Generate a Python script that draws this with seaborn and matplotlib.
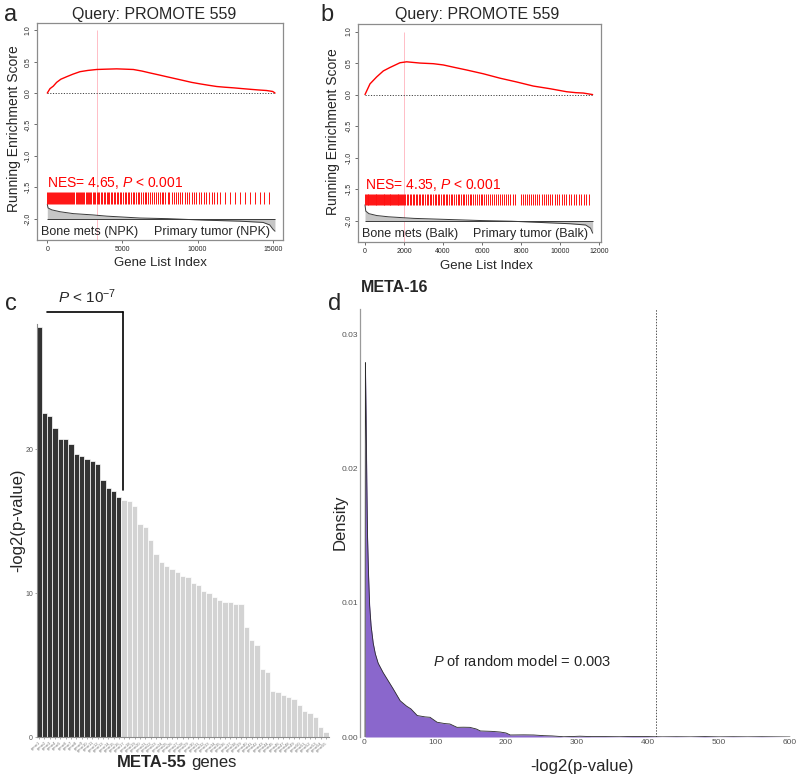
import matplotlib
matplotlib.use("Agg")
import matplotlib.pyplot as plt
import seaborn as sns
import pandas as pd

# ---- panel a : GSEA on NPK ----
a_es_idx = [0, 180, 400, 621, 900, 1290, 1700, 2175, 2700, 3285, 3900, 4615, 5200, 5725,
            6300, 6835, 7400, 7945, 8500, 9055, 9600, 10165, 10700, 11275, 11800, 12385,
            12900, 13490, 14000, 14600, 15000, 15155]
a_es_val = [0.0, 0.07, 0.11, 0.17, 0.22, 0.26, 0.30, 0.34, 0.36, 0.375, 0.38, 0.385, 0.38,
            0.375, 0.35, 0.32, 0.29, 0.26, 0.23, 0.20, 0.17, 0.146, 0.125, 0.104, 0.093,
            0.083, 0.072, 0.06, 0.05, 0.04, 0.025, 0.0]
a_hits = [10, 70, 130, 200, 260, 330, 390, 450, 520, 590, 650, 720, 790, 850, 920, 990,
          1050, 1120, 1190, 1250, 1320, 1390, 1460, 1520, 1600, 1670, 1740, 1810, 1880,
          1950, 2020, 2100, 2170, 2240, 2320, 2400, 2470, 2550, 2630, 2700, 2780, 2860,
          2940, 3020, 3110, 3200, 3290, 3380, 3470, 3560, 3650, 3750, 3840, 3940, 4030,
          4130, 4220, 4320, 4420, 4520, 4620, 4720, 4820, 4930, 5030, 5140, 5240, 5350,
          5460, 5570, 5680, 5790, 5900, 6020, 6130, 6250, 6360, 6480, 6600, 6720, 6840,
          6960, 7090, 7210, 7340, 7470, 7600, 7730, 7860, 8000, 8130, 8270, 8410, 8550,
          8700, 8840, 8990, 9140, 9290, 9450, 9600, 9760, 9920, 10080, 10250, 10420, 10590,
          10760, 10940, 11120, 11300, 11480, 11800, 12150, 12500, 12800, 13150, 13500,
          13800, 14150, 14450, 14780]
a_rank_idx = [0, 50, 300, 850, 1730, 3000, 3950, 6160, 8000, 10600, 12810, 14360, 14800, 15020, 15150]
a_rank_val = [-1.77, -1.83, -1.86, -1.89, -1.92, -1.94, -1.96, -1.99, -2.0, -2.025, -2.04,
              -2.06, -2.1, -2.17, -2.2]

# ---- panel b : GSEA on Balk ----
b_es_idx = [0, 256, 597, 938, 1280, 1622, 1792, 2133, 2816, 3499, 4011, 4600, 5206, 6060,
            6913, 7766, 8620, 9473, 10326, 10800, 11180, 11658]
b_es_val = [0.0, 0.17, 0.28, 0.375, 0.43, 0.48, 0.505, 0.52, 0.50, 0.49, 0.47, 0.43, 0.39,
            0.33, 0.26, 0.20, 0.135, 0.093, 0.045, 0.03, 0.024, 0.0]
b_hits = [5, 45, 85, 135, 175, 225, 265, 310, 360, 400, 450, 490, 540, 580, 630, 675, 720,
          770, 810, 855, 900, 950, 990, 1035, 1085, 1125, 1170, 1220, 1260, 1305, 1350,
          1400, 1440, 1485, 1530, 1580, 1620, 1665, 1715, 1755, 1800, 1850, 1890, 1935,
          1980, 2060, 2140, 2210, 2290, 2370, 2440, 2520, 2600, 2680, 2750, 2830, 2910,
          2990, 3070, 3150, 3230, 3310, 3390, 3470, 3560, 3640, 3720, 3800, 3890, 3970,
          4050, 4140, 4220, 4310, 4390, 4480, 4560, 4650, 4740, 4820, 4910, 5000, 5090,
          5180, 5270, 5360, 5450, 5540, 5640, 5730, 5820, 5920, 6010, 6110, 6200, 6300,
          6400, 6500, 6600, 6700, 6800, 6900, 7010, 7110, 7220, 7330, 7440, 7560, 7680,
          7990, 8090, 8190, 8290, 8400, 8500, 8610, 8710, 8820, 8930, 9040, 9150, 9260,
          9370, 9480, 9600, 9710, 9830, 9950, 10070, 10190, 10310, 10430, 10560, 10680,
          10810, 10940, 11070, 11200, 11340, 11480]
b_rank_idx = [0, 40, 200, 600, 1200, 2500, 4000, 6000, 7500, 9000, 10500, 11300, 11550, 11660]
b_rank_val = [-1.75, -1.85, -1.89, -1.92, -1.94, -1.965, -1.98, -2.0, -2.01, -2.03, -2.05,
              -2.07, -2.12, -2.2]

# ---- panel c : META-55 genes ----
top_vals = [28.5, 22.5, 22.3, 21.5, 20.7, 20.7, 20.4, 19.7, 19.5, 19.3, 19.2, 19.0, 17.9,
            17.3, 17.1, 16.7]
rest_vals = [16.46, 16.41, 16.06, 14.8, 14.6, 13.7, 12.7, 12.2, 11.9, 11.67, 11.46, 11.2,
             11.16, 10.74, 10.6, 10.16, 10.05, 9.75, 9.54, 9.4, 9.4, 9.26, 9.26, 7.69, 6.76,
             6.39, 4.75, 4.5, 3.24, 3.13, 2.92, 2.8, 2.66, 2.25, 1.85, 1.71, 1.44, 0.69, 0.39]
gene_labels = [f"gene{i}" for i in range(1, 56)]

# ---- panel d : META-16 random model density ----
dens_x = [1.5, 2, 3, 4, 5, 6.5, 8, 10, 13, 16, 20, 27, 34, 41, 51, 60, 66, 75, 86, 93, 103,
          114, 121, 131, 140, 149, 158, 164, 180, 192, 200, 206, 225, 239, 253, 265, 281,
          295, 304, 320, 340, 360, 380, 400, 420, 440, 460, 480, 500, 520, 540, 560, 580, 600]
dens_y = [0.0, 0.0279, 0.024, 0.019, 0.015, 0.012, 0.0098, 0.0083, 0.0070, 0.0062, 0.0055,
          0.0048, 0.0042, 0.0036, 0.0027, 0.0023, 0.0021, 0.0016, 0.0015, 0.00147, 0.0011,
          0.001, 0.00097, 0.00072, 0.00073, 0.00072, 0.0006, 0.00045, 0.00042, 0.00037,
          0.0003, 0.00015, 0.00016, 0.00015, 0.0001, 0.00008, 0.00002, 0.00004, 0.00006,
          0.00003, 0.00003, 0.00002, 0.00004, 0.00003, 0.00001, 0.00002, 0.00001, 0.00003,
          0.00001, 0.00002, 0.00001, 0.00002, 0.00001, 0.0]
observed = 411

sns.set_theme(style="white")
plt.rcParams['font.family'] = ['Liberation Sans', 'DejaVu Sans']
plt.rcParams['mathtext.fontset'] = 'custom'
plt.rcParams['mathtext.rm'] = 'Liberation Sans'
plt.rcParams['mathtext.it'] = 'Liberation Sans:italic'

W, H = 800, 777
fig = plt.figure(figsize=(8, 7.77), dpi=100)


def px_axes(left, top, right, bottom):
    return fig.add_axes([left / W, 1 - bottom / H, (right - left) / W, (bottom - top) / H])


def ftext(x, y, s, **kw):
    fig.text(x / W, 1 - y / H, s, **kw)


def draw_gsea(ax, es_idx, es_val, hits, rank_idx, rank_val, peak, xlim, xticks,
              nes, left_lab, right_lab):
    n = es_idx[-1]
    ax.set_xlim(*xlim)
    ax.set_ylim(-2.34, 1.12)
    ax.vlines(peak, -2.34, 1.0, color="#ffb3bd", lw=0.6, zorder=1)
    ax.hlines(0, 0, n, color="#444444", lw=0.7, linestyles=(0, (1.2, 1.6)), zorder=2)
    ax.fill_between(rank_idx, -2.0, rank_val, color="#c6c6c6", lw=0, zorder=2)
    sns.lineplot(x=rank_idx, y=rank_val, ax=ax, color="#3a3a3a", lw=0.7,
                 estimator=None, sort=False, zorder=3)
    ax.hlines(-2.0, 0, n, color="#3a3a3a", lw=0.7, zorder=3)
    ax.vlines(hits, -1.76, -1.58, color="#ff1010", lw=0.7, zorder=3)
    sns.lineplot(x=es_idx, y=es_val, ax=ax, color="#ff0000", lw=1.0,
                 estimator=None, sort=False, zorder=4)
    ax.text(0, -1.43, nes, color="#ff0000", fontsize=10, ha="left", va="center")
    ax.text(0.014, 0.035, left_lab, transform=ax.transAxes, fontsize=9, ha="left", va="center")
    ax.text(0.945, 0.035, right_lab, transform=ax.transAxes, fontsize=9, ha="right", va="center")
    ax.set_xticks(xticks)
    ax.set_xticklabels([str(t) for t in xticks])
    yt = [-2.0, -1.5, -1.0, -0.5, 0.0, 0.5, 1.0]
    ax.set_yticks(yt)
    ax.set_yticklabels([f"{v:.1f}" for v in yt], rotation=90, va="center")
    ax.tick_params(axis="both", which="both", bottom=True, left=True, length=2.5, width=0.6,
                   color="#555555", labelsize=5, pad=1.5, direction="out")
    ax.set_xlabel("")
    ax.set_ylabel("")
    for sp in ax.spines.values():
        sp.set_color("#8c8c8c")
        sp.set_linewidth(0.9)


ax_a = px_axes(37.3, 22.7, 283.3, 240)
draw_gsea(ax_a, a_es_idx, a_es_val, a_hits, a_rank_idx, a_rank_val, 3290, (-665, 15705),
          [0, 5000, 10000, 15000], r"NES= 4.65, $\mathit{P}$ < 0.001",
          "Bone mets (NPK)", "Primary tumor (NPK)")

ax_b = px_axes(358.3, 24, 601, 242)
draw_gsea(ax_b, b_es_idx, b_es_val, b_hits, b_rank_idx, b_rank_val, 1997, (-343, 12087),
          [0, 2000, 4000, 6000, 8000, 10000, 12000], r"NES= 4.35, $\mathit{P}$ < 0.001",
          "Bone mets (Balk)", "Primary tumor (Balk)")

ftext(154, 14, "Query: PROMOTE 559", fontsize=11.5, ha="center", va="center")
ftext(477, 14, "Query: PROMOTE 559", fontsize=11.5, ha="center", va="center")
ftext(160, 263, "Gene List Index", fontsize=9.5, ha="center", va="center")
ftext(486, 266, "Gene List Index", fontsize=9.5, ha="center", va="center")
ftext(14, 129, "Running Enrichment Score", fontsize=10, rotation=90, ha="center", va="center")
ftext(333, 132, "Running Enrichment Score", fontsize=10, rotation=90, ha="center", va="center")

# ---- panel c ----
bars = pd.DataFrame({
    "gene": gene_labels,
    "value": top_vals + rest_vals,
    "group": ["top"] * len(top_vals) + ["rest"] * len(rest_vals),
})
ax_c = px_axes(36.5, 324, 328.6, 737.3)
sns.barplot(data=bars, x="gene", y="value", hue="group", order=gene_labels,
            palette={"top": "#333333", "rest": "#d3d3d3"}, dodge=False, width=1.0,
            saturation=1, edgecolor="white", linewidth=0.5, legend=False, ax=ax_c)
ax_c.set_xlim(-0.5, 54.5)
ax_c.set_ylim(0, 28.7)
ax_c.set_yticks([0, 10, 20])
ax_c.set_yticklabels(["0", "10", "20"])
ax_c.tick_params(axis="y", left=True, length=1.5, width=0.5, color="#888888",
                 labelsize=5, labelcolor="#555555", pad=1)
ax_c.tick_params(axis="x", bottom=True, length=1.5, width=0.5, color="#888888",
                 labelsize=3, labelcolor="#777777", pad=1)
plt.setp(ax_c.get_xticklabels(), rotation=40, ha="right", rotation_mode="anchor")
ax_c.set_xlabel("")
ax_c.set_ylabel("")
for side in ["top", "right"]:
    ax_c.spines[side].set_visible(False)
for side in ["left", "bottom"]:
    ax_c.spines[side].set_color("#8c8c8c")
    ax_c.spines[side].set_linewidth(0.8)
ax_c.plot([1.4, 15.8], [29.5, 29.5], color="black", lw=1.2, clip_on=False)
ax_c.plot([15.8, 15.8], [29.5, 17.2], color="black", lw=1.2, clip_on=False)
ftext(87, 297, r"$\mathit{P}$ < 10$^{-7}$", fontsize=11, ha="center", va="center")
ftext(18, 520, "-log2(p-value)", fontsize=12, rotation=90, ha="center", va="center")
ftext(186.7, 767, "META-55", fontsize=12, fontweight="bold", ha="right", va="baseline")
ftext(191.5, 767, "genes", fontsize=12, ha="left", va="baseline")

# ---- panel d ----
ax_d = px_axes(360, 309, 795, 737)
ax_d.set_xlim(-5.6, 607)
ax_d.set_ylim(0, 0.0319)
ax_d.fill_between(dens_x, 0, dens_y, color="#8a67cc", lw=0, zorder=2)
sns.lineplot(x=dens_x, y=dens_y, ax=ax_d, color="#2b2b2b", lw=0.6,
             estimator=None, sort=False, zorder=3)
ax_d.axvline(observed, color="#555555", lw=0.7, linestyle=(0, (1.5, 1.5)), zorder=1)
ax_d.text(97, 0.0056, r"$\mathit{P}$ of random model = 0.003", fontsize=10.5,
          ha="left", va="center")
ax_d.set_xticks([0, 100, 200, 300, 400, 500, 600])
ax_d.set_xticklabels(["0", "100", "200", "300", "400", "500", "600"])
ax_d.set_yticks([0, 0.01, 0.02, 0.03])
ax_d.set_yticklabels(["0.00", "0.01", "0.02", "0.03"])
ax_d.tick_params(axis="both", length=0, labelsize=6, labelcolor="#555555", pad=1.5)
ax_d.set_xlabel("")
ax_d.set_ylabel("")
for side in ["top", "right", "bottom"]:
    ax_d.spines[side].set_visible(False)
ax_d.spines["left"].set_color("#9a9a9a")
ax_d.spines["left"].set_linewidth(0.9)
ftext(360.5, 288, "META-16", fontsize=11.5, fontweight="bold", ha="left", va="center")
ftext(340, 522, "Density", fontsize=12, rotation=90, ha="center", va="center")
ftext(582, 767, "-log2(p-value)", fontsize=12, ha="center", va="center")

# panel letters
ftext(4, 21, "a", fontsize=17, ha="left", va="baseline")
ftext(320, 21, "b", fontsize=17, ha="left", va="baseline")
ftext(5, 310, "c", fontsize=17, ha="left", va="baseline")
ftext(328, 310, "d", fontsize=17, ha="left", va="baseline")

fig.savefig("out.png", dpi=100)
